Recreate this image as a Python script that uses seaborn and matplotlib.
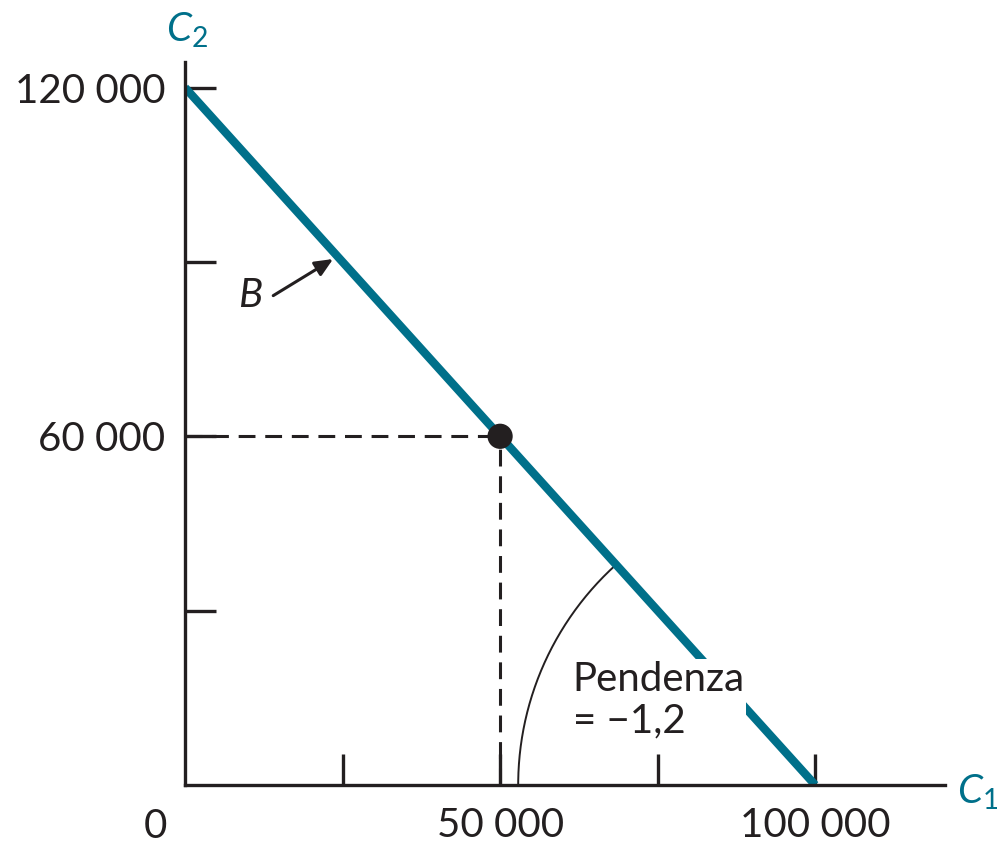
import numpy as np
import pandas as pd
import matplotlib
matplotlib.use("Agg")
import matplotlib.pyplot as plt
import seaborn as sns

# Budget line B: consumption today (C1) vs. consumption tomorrow (C2)
c1 = [0, 100000]
c2 = [120000, 0]
point_c1 = [50000]
point_c2 = [60000]
x_ticks = [25000, 50000, 75000, 100000]
x_tick_labels = ["", "50 000", "", "100 000"]
y_ticks = [30000, 60000, 90000, 120000]
y_tick_labels = ["", "60 000", "", "120 000"]
slope_label = "Pendenza\n= \u22121,2"

TEAL = "#00708a"
INK = "#231f20"

sns.set_theme(style="white")
plt.rcParams["font.family"] = ["Lato", "DejaVu Sans"]
plt.rcParams["mathtext.fontset"] = "custom"
plt.rcParams["mathtext.rm"] = "Lato"
plt.rcParams["mathtext.it"] = "Lato:italic"

W, H, DPI = 997, 844, 100
fig = plt.figure(figsize=(W / DPI, H / DPI), dpi=DPI)
ax_l, ax_b, ax_w, ax_h = 185 / W, (H - 785) / H, (945 - 185) / W, (785 - 62) / H
ax = fig.add_axes([ax_l, ax_b, ax_w, ax_h])

xmax, ymax = 120600, 124400
ax.set_xlim(0, xmax)
ax.set_ylim(0, ymax)

df = pd.DataFrame({"C1": c1, "C2": c2})
sns.lineplot(data=df, x="C1", y="C2", ax=ax, color=TEAL, linewidth=6,
             solid_capstyle="butt", zorder=2)

# dashed guides to the chosen point
ax.plot([0, point_c1[0]], [point_c2[0], point_c2[0]], color=INK, lw=2.2,
        dashes=(5.5, 3.2), zorder=1)
ax.plot([point_c1[0], point_c1[0]], [0, point_c2[0]], color=INK, lw=2.2,
        dashes=(5.5, 3.2), zorder=1)

sns.scatterplot(x=point_c1, y=point_c2, ax=ax, color=INK, s=330,
                edgecolor="none", zorder=4)

# arc marking the slope angle at the horizontal intercept (circular on screen)
sx = ax_w * W / xmax
sy = ax_h * H / ymax
r_px = 297
x0 = c1[1]
ang_line = np.arctan2((c2[0] - c2[1]) * sy, (c1[0] - c1[1]) * sx)
t = np.linspace(ang_line, np.pi, 200)
ax.plot(x0 + r_px * np.cos(t) / sx, r_px * np.sin(t) / sy, color=INK, lw=1.4,
        zorder=1)

ax.text(61500, 21400, slope_label, fontsize=29,
        color=INK, ha="left", va="top", linespacing=1.15,
        bbox=dict(facecolor="white", edgecolor="none", pad=1.0), zorder=3)

# label B with arrow
ax.annotate("", xy=(23500, 90500), xytext=(14000, 84200),
            arrowprops=dict(arrowstyle="-|>,head_length=0.9,head_width=0.4",
                            color=INK, lw=2.2, shrinkA=0, shrinkB=0))
ax.text(10300, 84200, "B", fontsize=29, fontstyle="italic", color=INK,
        ha="center", va="center")

# axes styling
sns.despine(ax=ax)
for side in ("left", "bottom"):
    ax.spines[side].set_color(INK)
    ax.spines[side].set_linewidth(2.4)
    ax.spines[side].set_zorder(5)

ax.set_xticks(x_ticks, x_tick_labels)
ax.set_yticks(y_ticks, y_tick_labels)
ax.tick_params(axis="both", which="major", bottom=True, left=True,
               direction="in", length=22, width=2.4, color=INK,
               labelsize=29, labelcolor=INK)
ax.tick_params(axis="x", pad=16)
ax.tick_params(axis="y", pad=14)
ax.set_xlabel("")
ax.set_ylabel("")

fig.text(155 / W, 1 - 826 / H, "0", fontsize=29, color=INK, ha="center",
         va="center")
fig.text(187 / W, 1 - 30 / H, "$C_2$", fontsize=29, color=TEAL, ha="center",
         va="center")
fig.text(978 / W, 1 - 792 / H, "$C_1$", fontsize=29, color=TEAL, ha="center",
         va="center")

fig.savefig("out.png", dpi=DPI, facecolor="white")
